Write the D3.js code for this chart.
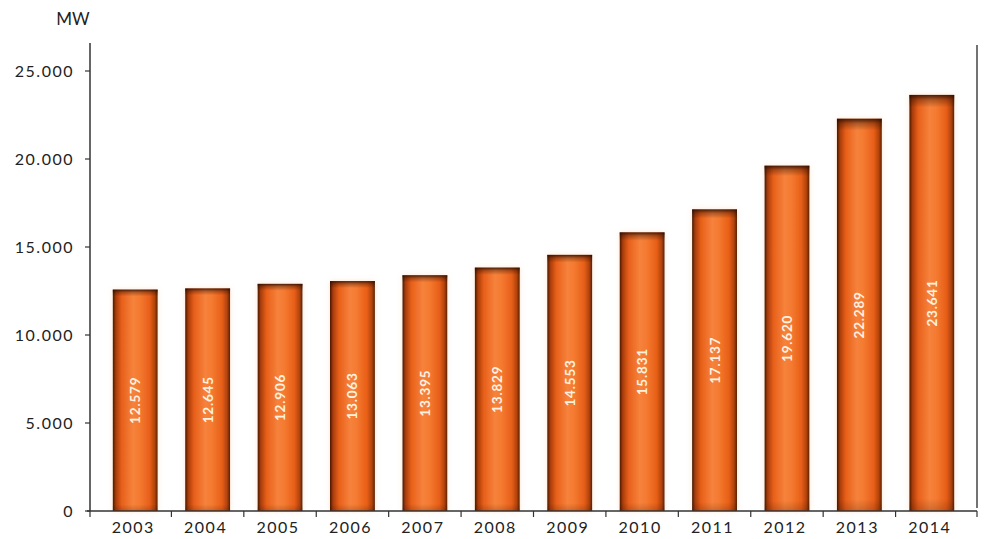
<!DOCTYPE html>
<html>
<head>
<meta charset="utf-8">
<script src="https://cdn.jsdelivr.net/npm/d3@7"></script>
<style>
  html, body { margin: 0; padding: 0; background: #fff; }
  svg { display: block; font-family: "Lato", "Open Sans", sans-serif; }
</style>
</head>
<body>
<svg id="chart" width="988" height="539"></svg>
<script>
// Installed capacity per year (MW)
const years = ["2003","2004","2005","2006","2007","2008","2009","2010","2011","2012","2013","2014"];
const capacityMW = [12579, 12645, 12906, 13063, 13395, 13829, 14553, 15831, 17137, 19620, 22289, 23641];
const valueLabels = ["12.579","12.645","12.906","13.063","13.395","13.829","14.553","15.831","17.137","19.620","22.289","23.641"];
const yTicks = [0, 5000, 10000, 15000, 20000, 25000];
const yTickLabels = ["0","5.000","10.000","15.000","20.000","25.000"];

const svg = d3.select("#chart");

const axisLeftX = 90, axisRightX = 977, baseY = 511;

const x = d3.scaleBand()
  .domain(years)
  .range([99, 968])
  .paddingInner(0.38)
  .paddingOuter(0.19);

const y = d3.scaleLinear()
  .domain([0, 25000])
  .range([baseY, 71]);

// Gradient giving the bars a rounded, cylinder-like shading
const defs = svg.append("defs");
const grad = defs.append("linearGradient").attr("id", "barGrad")
  .attr("x1", "0%").attr("x2", "100%").attr("y1", "0%").attr("y2", "0%");
[
  [0, "#4a1800"], [0.07, "#a93d0a"], [0.2, "#e8601a"], [0.45, "#f6823c"],
  [0.6, "#f47a30"], [0.82, "#e85f18"], [0.93, "#b3440c"], [1, "#5c2002"]
].forEach(([o, c]) => grad.append("stop").attr("offset", o).attr("stop-color", c));

const vgrad = defs.append("linearGradient").attr("id", "barShade")
  .attr("x1", "0%").attr("x2", "0%").attr("y1", "0%").attr("y2", "100%");
[
  [0, "#2a0c00", 0.85], [0.012, "#2a0c00", 0.35], [0.03, "#2a0c00", 0], [0.97, "#2a0c00", 0], [1, "#2a0c00", 0.2]
].forEach(([o, c, a]) => vgrad.append("stop").attr("offset", o).attr("stop-color", c).attr("stop-opacity", a));

const glow = defs.append("filter").attr("id", "soft").attr("x", "-20%").attr("y", "-10%").attr("width", "140%").attr("height", "120%");
glow.append("feGaussianBlur").attr("in", "SourceAlpha").attr("stdDeviation", 2.5).attr("result", "b");
glow.append("feFlood").attr("flood-color", "#f3b27a").attr("flood-opacity", 0.35);
glow.append("feComposite").attr("in2", "b").attr("operator", "in").attr("result", "g");
const merge = glow.append("feMerge");
merge.append("feMergeNode").attr("in", "g");
merge.append("feMergeNode").attr("in", "SourceGraphic");

const data = years.map((yr, i) => ({ year: yr, value: capacityMW[i], label: valueLabels[i] }));

// Bars
const bars = svg.append("g");
bars.selectAll("rect.bar").data(data).join("rect")
  .attr("class", "bar")
  .attr("x", d => x(d.year))
  .attr("y", d => y(d.value))
  .attr("width", x.bandwidth())
  .attr("height", d => baseY - y(d.value))
  .attr("fill", "url(#barGrad)")
  .attr("filter", "url(#soft)");
bars.selectAll("rect.shade").data(data).join("rect")
  .attr("class", "shade")
  .attr("x", d => x(d.year))
  .attr("y", d => y(d.value))
  .attr("width", x.bandwidth())
  .attr("height", d => baseY - y(d.value))
  .attr("fill", "url(#barShade)");

// Value labels, rotated, in the middle of each bar
bars.selectAll("text.val").data(data).join("text")
  .attr("class", "val")
  .attr("transform", d => `translate(${x(d.year) + x.bandwidth() / 2 + 5},${(y(d.value) + baseY) / 2}) rotate(-90)`)
  .attr("text-anchor", "middle")
  .attr("fill", "#fff2e0")
  .attr("font-size", 13.5)
  .attr("font-weight", "bold")
  .attr("letter-spacing", 0.8)
  .text(d => d.label);

// Y axis
const yAxisG = svg.append("g").attr("transform", `translate(${axisLeftX},0)`);
yAxisG.append("line").attr("x1", 0).attr("x2", 0).attr("y1", 43).attr("y2", baseY)
  .attr("stroke", "#333").attr("stroke-width", 1.5);
yAxisG.selectAll("line.tk").data(yTicks).join("line").attr("class", "tk")
  .attr("x1", -5).attr("x2", 0).attr("y1", d => y(d)).attr("y2", d => y(d))
  .attr("stroke", "#333").attr("stroke-width", 1.2);
yAxisG.selectAll("text").data(yTicks).join("text")
  .attr("x", -16).attr("y", d => y(d)).attr("dy", "0.35em")
  .attr("text-anchor", "end").attr("fill", "#222").attr("font-size", 16)
  .attr("letter-spacing", 1.5)
  .text((d, i) => yTickLabels[i]);

svg.append("text").attr("x", 73).attr("y", 25).attr("text-anchor", "middle")
  .attr("fill", "#222").attr("font-size", 17).text("MW");

// X axis with ticks between categories
const xAxisG = svg.append("g");
xAxisG.append("line").attr("x1", axisLeftX - 3).attr("x2", axisRightX).attr("y1", baseY).attr("y2", baseY)
  .attr("stroke", "#333").attr("stroke-width", 1.5);
const gap = x.step() - x.bandwidth();
const boundaries = [axisLeftX].concat(years.slice(0, -1).map(yr => x(yr) + x.bandwidth() + gap / 2)).concat([axisRightX]);
xAxisG.selectAll("line.tk").data(boundaries).join("line").attr("class", "tk")
  .attr("x1", d => d).attr("x2", d => d).attr("y1", baseY).attr("y2", baseY + 6)
  .attr("stroke", "#333").attr("stroke-width", 1.2);
xAxisG.selectAll("text").data(years).join("text")
  .attr("x", d => x(d) + x.bandwidth() / 2 - 2).attr("y", 533)
  .attr("text-anchor", "middle").attr("fill", "#222").attr("font-size", 16)
  .attr("letter-spacing", 1.5)
  .text(d => d);

// Right-hand frame line
svg.append("line").attr("x1", axisRightX).attr("x2", axisRightX).attr("y1", 45).attr("y2", baseY - 3)
  .attr("stroke", "#444").attr("stroke-width", 1.5);
</script>
</body>
</html>
